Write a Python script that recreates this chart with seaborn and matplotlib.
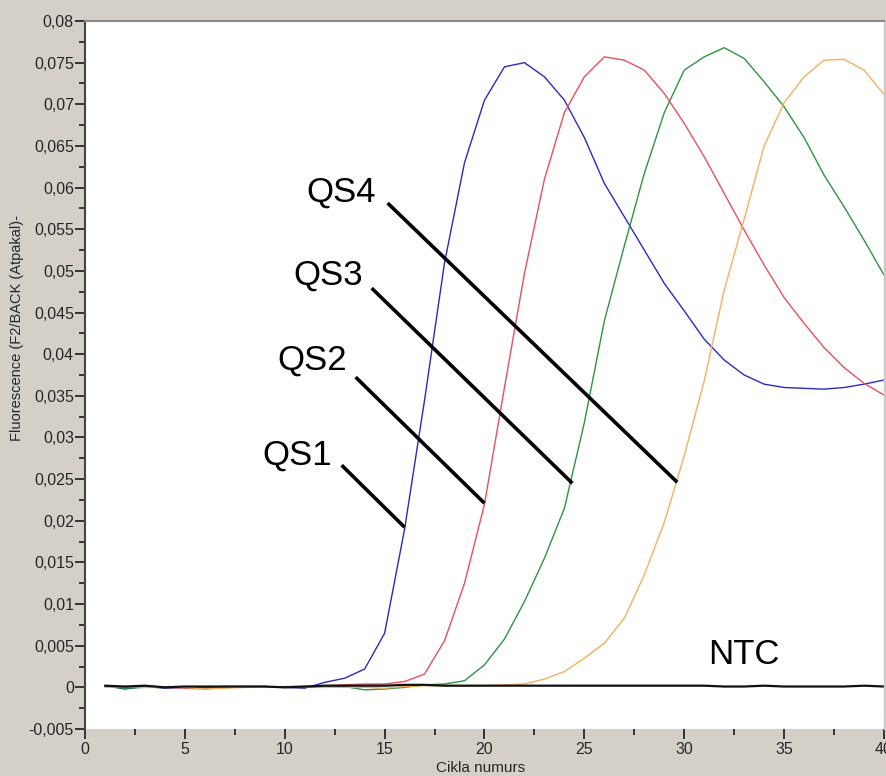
import numpy as np
import pandas as pd
import matplotlib
matplotlib.use("Agg")
import matplotlib.pyplot as plt
from matplotlib.ticker import MultipleLocator, FuncFormatter
import seaborn as sns

# cycles 1..40
cycles = list(range(1, 41))

qs1 = [0.0002, -0.0002, 0.0001, -0.0001, 0.0000, 0.0000, 0.0001, 0.0001, 0.0001, 0.0000,
       -0.0001, 0.0006, 0.0011, 0.0022, 0.0065, 0.0190, 0.0345, 0.0510, 0.0630, 0.0705,
       0.0745, 0.0750, 0.0733, 0.0705, 0.0660, 0.0605, 0.0565, 0.0525, 0.0485, 0.0452,
       0.0418, 0.0393, 0.0375, 0.0364, 0.0360, 0.0359, 0.0358, 0.0360, 0.0364, 0.0369]
qs2 = [0.0001, 0.0000, 0.0002, 0.0000, -0.0001, -0.0002, 0.0000, 0.0001, 0.0000, 0.0001,
       0.0001, 0.0002, 0.0003, 0.0004, 0.0004, 0.0007, 0.0016, 0.0056, 0.0125, 0.0220,
       0.0360, 0.0497, 0.0610, 0.0690, 0.0733, 0.0757, 0.0753, 0.0741, 0.0713, 0.0677,
       0.0637, 0.0593, 0.0549, 0.0507, 0.0468, 0.0437, 0.0408, 0.0384, 0.0365, 0.0351]
qs3 = [0.0001, -0.0001, 0.0000, 0.0000, 0.0000, -0.0001, 0.0000, 0.0000, 0.0001, 0.0000,
       0.0000, 0.0000, 0.0001, -0.0003, -0.0002, 0.0000, 0.0003, 0.0004, 0.0008, 0.0027,
       0.0058, 0.0103, 0.0155, 0.0215, 0.0318, 0.0440, 0.0530, 0.0617, 0.0690, 0.0741,
       0.0757, 0.0768, 0.0755, 0.0727, 0.0697, 0.0660, 0.0615, 0.0577, 0.0537, 0.0495]
qs4 = [0.0000, 0.0001, 0.0000, 0.0000, 0.0000, -0.0002, -0.0001, 0.0000, 0.0000, 0.0000,
       0.0001, 0.0000, 0.0000, 0.0000, -0.0001, 0.0001, 0.0002, 0.0002, 0.0002, 0.0002,
       0.0003, 0.0004, 0.0010, 0.0019, 0.0035, 0.0053, 0.0083, 0.0135, 0.0198, 0.0278,
       0.0368, 0.0477, 0.0562, 0.0650, 0.0702, 0.0733, 0.0753, 0.0754, 0.0741, 0.0712]
ntc = [0.0002, 0.0001, 0.0002, 0.0000, 0.0001, 0.0001, 0.0001, 0.0001, 0.0001, 0.0000,
       0.0001, 0.0002, 0.0002, 0.0002, 0.0002, 0.0003, 0.0003, 0.0002, 0.0002, 0.0002,
       0.0002, 0.0002, 0.0002, 0.0002, 0.0002, 0.0002, 0.0002, 0.0002, 0.0002, 0.0002,
       0.0002, 0.0001, 0.0001, 0.0002, 0.0001, 0.0001, 0.0001, 0.0001, 0.0002, 0.0001]

series_names = ["QS1", "QS2", "QS3", "QS4", "NTC"]
series_values = [qs1, qs2, qs3, qs4, ntc]
colors = {"QS1": "#2a2ac0", "QS2": "#e8505a", "QS3": "#2f9440",
          "QS4": "#f4b060", "NTC": "#111111"}

# label text positions (x, y) and leader lines (x0, y0, x1, y1)
label_pos = {"QS1": (10.6, 0.0267), "QS2": (11.35, 0.0381),
             "QS3": (12.15, 0.0483), "QS4": (12.8, 0.0583), "NTC": (33.0, 0.00276)}
leaders = {"QS1": (12.85, 0.02667, 16.0, 0.01922),
           "QS2": (13.55, 0.03724, 20.0, 0.0221),
           "QS3": (14.35, 0.04793, 24.4, 0.0245),
           "QS4": (15.15, 0.05814, 29.65, 0.02462)}

rows = []
for name, vals in zip(series_names, series_values):
    for c, v in zip(cycles, vals):
        rows.append({"cycle": c, "value": v, "sample": name})
df = pd.DataFrame(rows)

sns.set_style("white")
plt.rcParams["font.family"] = ["Liberation Sans", "DejaVu Sans"]

bg = "#d4d0c8"
fig = plt.figure(figsize=(8.87, 7.76), dpi=100, facecolor=bg)
ax = fig.add_axes([85 / 887, 47 / 776, 799 / 887, 708 / 776])
ax.set_facecolor("white")

for name in series_names:
    sub = df[df["sample"] == name]
    sns.lineplot(data=sub, x="cycle", y="value", color=colors[name],
                 lw=1.6 if name == "NTC" else 1.0, ax=ax, legend=False)

for name, (x0, y0, x1, y1) in leaders.items():
    ax.plot([x0, x1], [y0, y1], color="black", lw=2.6, solid_capstyle="butt")
for name, (tx, ty) in label_pos.items():
    ax.text(tx, ty, name, fontsize=25, ha="center", va="baseline", color="black")

ax.set_xlim(0, 40)
ax.set_ylim(-0.005, 0.08)
ax.xaxis.set_major_locator(MultipleLocator(5))
ax.xaxis.set_minor_locator(MultipleLocator(2.5))
ax.yaxis.set_major_locator(MultipleLocator(0.005))
ax.yaxis.set_minor_locator(MultipleLocator(0.0025))


def comma_fmt(v, pos):
    if abs(v) < 1e-9:
        return "0"
    return ("%.3f" % v).rstrip("0").replace(".", ",")


ax.yaxis.set_major_formatter(FuncFormatter(comma_fmt))
ax.tick_params(axis="both", which="major", direction="out", length=7, width=1.4,
               color="#333333", labelsize=11.5, pad=1, bottom=True, left=True)
ax.tick_params(axis="both", which="minor", direction="out", length=4, width=1.4,
               color="#333333", bottom=True, left=True)
ax.tick_params(axis="x", which="major", pad=2)

ax.spines["left"].set_color("#444444")
ax.spines["left"].set_linewidth(1.5)
ax.spines["top"].set_color("#8a8a8a")
ax.spines["top"].set_linewidth(1.5)
ax.spines["right"].set_color("#c8c8c8")
ax.spines["right"].set_linewidth(1.0)
ax.spines["bottom"].set_visible(False)

ax.set_xlabel("Cikla numurs", fontsize=11)
ax.set_ylabel("Fluorescence (F2/BACK (Atpakal)-", fontsize=10.5)
ax.xaxis.set_label_coords(0.4956, -0.045)
ax.yaxis.set_label_coords(-0.076, 0.566)

fig.savefig("out.png", dpi=100, facecolor=bg)
